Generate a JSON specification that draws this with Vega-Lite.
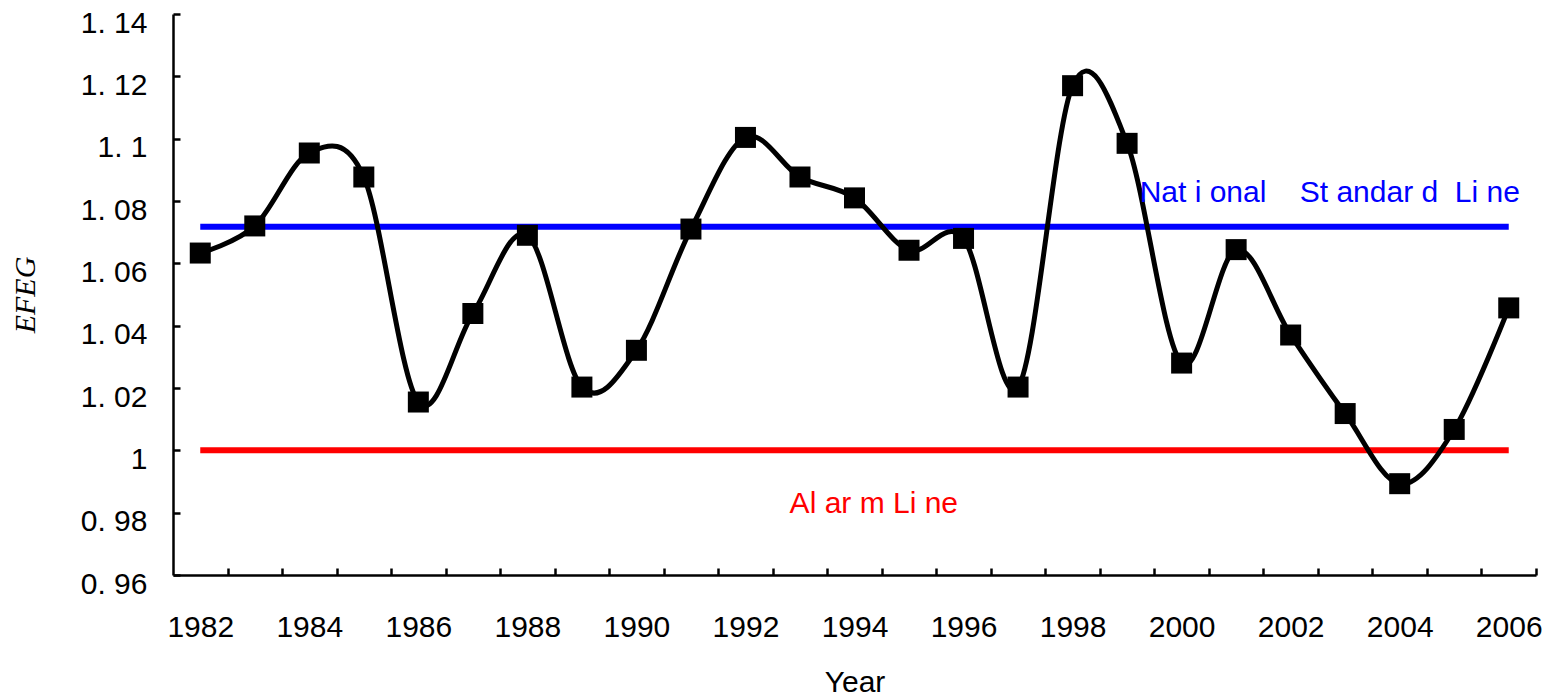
{
  "$schema": "https://vega.github.io/schema/vega-lite/v6.json",
  "width": 1363,
  "height": 561,
  "autosize": {"type": "none"},
  "padding": {"left": 173, "top": 14, "right": 17, "bottom": 124},
  "background": "white",
  "config": {
    "view": {"stroke": null},
    "font": "Liberation Sans",
    "axis": {
      "labelFont": "Liberation Sans",
      "labelFontSize": 30,
      "labelColor": "black",
      "domainColor": "black",
      "domainWidth": 2.5,
      "tickColor": "black",
      "tickWidth": 2.5,
      "grid": false,
      "titleColor": "black",
      "titleFontWeight": "normal"
    }
  },
  "datasets": {
    "efeg": [
      {"Year": 1982, "EFEG": 1.0633},
      {"Year": 1983, "EFEG": 1.072},
      {"Year": 1984, "EFEG": 1.0954},
      {"Year": 1985, "EFEG": 1.0877},
      {"Year": 1986, "EFEG": 1.0155},
      {"Year": 1987, "EFEG": 1.0439},
      {"Year": 1988, "EFEG": 1.069},
      {"Year": 1989, "EFEG": 1.0203},
      {"Year": 1990, "EFEG": 1.0321},
      {"Year": 1991, "EFEG": 1.071},
      {"Year": 1992, "EFEG": 1.1004},
      {"Year": 1993, "EFEG": 1.0877},
      {"Year": 1994, "EFEG": 1.081},
      {"Year": 1995, "EFEG": 1.0642},
      {"Year": 1996, "EFEG": 1.068},
      {"Year": 1997, "EFEG": 1.0203},
      {"Year": 1998, "EFEG": 1.117},
      {"Year": 1999, "EFEG": 1.0985},
      {"Year": 2000, "EFEG": 1.028},
      {"Year": 2001, "EFEG": 1.0644},
      {"Year": 2002, "EFEG": 1.037},
      {"Year": 2003, "EFEG": 1.0118},
      {"Year": 2004, "EFEG": 0.9893},
      {"Year": 2005, "EFEG": 1.0067},
      {"Year": 2006, "EFEG": 1.0457}
    ],
    "refs": [
      {"name": "National Standard Line", "start": 1982, "end": 2006, "value": 1.0717, "color": "#0000ff"},
      {"name": "Alarm Line", "start": 1982, "end": 2006, "value": 1.0, "color": "#ff0000"}
    ],
    "notes": [
      {"label": "Nat i onal\u00a0\u00a0\u00a0 St andar d\u00a0 Li ne", "x": 1999.23, "y": 1.0796, "color": "#0000ff"},
      {"label": "Al ar m Li ne", "x": 1992.81, "y": 0.980, "color": "#ff0000"}
    ]
  },
  "layer": [
    {
      "data": {"name": "refs"},
      "mark": {"type": "rule", "strokeWidth": 6},
      "encoding": {
        "x": {"field": "start", "type": "quantitative",
          "scale": {"domain": [1981.5, 2006.5], "nice": false, "zero": false},
          "axis": {
            "title": "Year",
            "titleFont": "Liberation Sans",
            "titleFontSize": 30,
            "titlePadding": 25,
            "values": [1982,1983,1984,1985,1986,1987,1988,1989,1990,1991,1992,1993,1994,1995,1996,1997,1998,1999,2000,2001,2002,2003,2004,2005,2006],
            "format": "d",
            "labelExpr": "datum.value % 2 == 0 ? datum.label : ''",
            "tickSize": -7,
            "tickOffset": 27.26,
            "labelOffset": -27.26,
            "labelPadding": 44,
            "labelOverlap": false,
            "labelFlush": false
          }
        },
        "x2": {"field": "end"},
        "y": {"field": "value", "type": "quantitative",
          "scale": {"domain": [0.96, 1.14], "nice": false, "zero": false},
          "axis": {
            "title": "EFEG",
            "titleFont": "Liberation Serif",
            "titleFontStyle": "italic",
            "titleFontSize": 30,
            "titlePadding": 40,
            "values": [0.96, 0.98, 1.0, 1.02, 1.04, 1.06, 1.08, 1.1, 1.12, 1.14],
            "format": ".2~f",
            "labelExpr": "replace(datum.label, '.', '. ')",
            "tickSize": -7,
            "labelPadding": 33,
            "labelOffset": 9,
            "labelOverlap": false,
            "labelFlush": false
          }
        },
        "color": {"field": "color", "type": "nominal", "scale": null}
      }
    },
    {
      "data": {"name": "efeg"},
      "mark": {"type": "line", "interpolate": "cardinal", "color": "black", "strokeWidth": 5},
      "encoding": {
        "x": {"field": "Year", "type": "quantitative"},
        "y": {"field": "EFEG", "type": "quantitative"}
      }
    },
    {
      "data": {"name": "efeg"},
      "mark": {"type": "point", "shape": "square", "filled": true, "color": "black", "opacity": 1, "size": 441},
      "encoding": {
        "x": {"field": "Year", "type": "quantitative"},
        "y": {"field": "EFEG", "type": "quantitative"}
      }
    },
    {
      "data": {"name": "notes"},
      "mark": {"type": "text", "align": "left", "baseline": "alphabetic", "font": "Liberation Sans", "fontSize": 30},
      "encoding": {
        "x": {"field": "x", "type": "quantitative"},
        "y": {"field": "y", "type": "quantitative"},
        "text": {"field": "label"},
        "color": {"field": "color", "type": "nominal", "scale": null}
      }
    }
  ]
}
